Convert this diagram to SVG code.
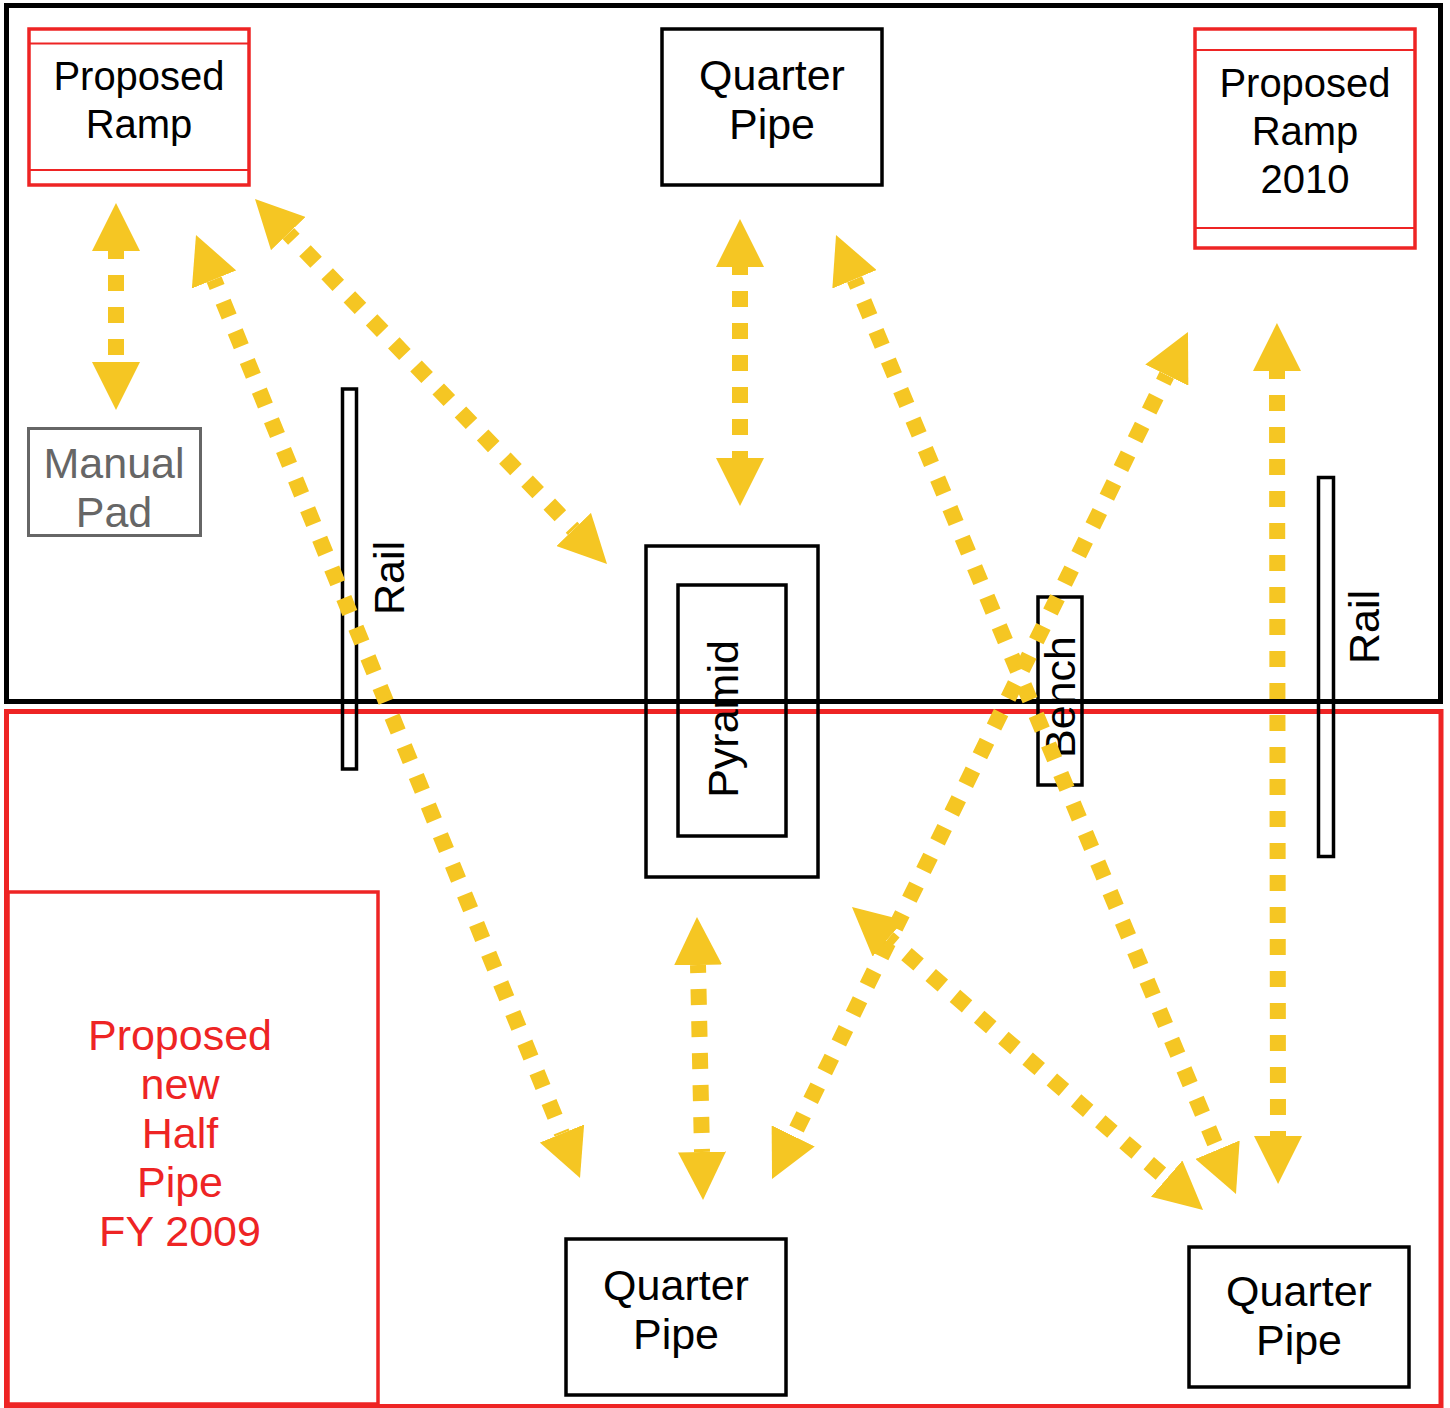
<svg xmlns="http://www.w3.org/2000/svg" width="1450" height="1408" viewBox="0 0 1450 1408">
<style>
text{font-family:"Liberation Sans",Arial,sans-serif;font-size:43px;text-anchor:middle;fill:#000}
.sm{font-size:40px}
.blk{fill:none;stroke:#000;stroke-width:3.5}
.red{fill:none;stroke:#EE2424;stroke-width:3.5}
.redthin{stroke:#EE2424;stroke-width:1.8}
.rt{fill:#EE2424}
.gt{fill:#666}
.arr{fill:none;stroke:#F5C623;stroke-width:16;stroke-dasharray:16 16;stroke-dashoffset:8;marker-start:url(#ah);marker-end:url(#ah)}
</style>
<defs>
<marker id="ah" markerUnits="userSpaceOnUse" viewBox="0 0 48 48" markerWidth="48" markerHeight="48" refX="0" refY="24" orient="auto-start-reverse">
<path d="M0,0 L48,24 L0,48 Z" fill="#F5C623"/>
</marker>
</defs>
<rect width="1450" height="1408" fill="#fff"/>
<g id="frames">
<rect x="6.5" y="711.5" width="1434.5" height="695" fill="none" stroke="#EE2424" stroke-width="5"/>
<rect x="6.5" y="5.5" width="1434" height="696" fill="none" stroke="#000" stroke-width="5"/>
</g>
<g id="ramp1">
<rect class="red" x="29" y="29" width="220" height="156"/>
<line class="redthin" x1="29" y1="43.5" x2="249" y2="43.5"/>
<line class="redthin" x1="29" y1="170" x2="249" y2="170"/>
<text class="sm" x="139" y="90">Proposed</text>
<text class="sm" x="139" y="138">Ramp</text>
</g>
<g id="qp-top">
<rect class="blk" x="662" y="29" width="220" height="156"/>
<text x="772" y="90">Quarter</text>
<text x="772" y="139">Pipe</text>
</g>
<g id="ramp2010">
<rect class="red" x="1195" y="29" width="220" height="219"/>
<line class="redthin" x1="1195" y1="50" x2="1415" y2="50"/>
<line class="redthin" x1="1195" y1="228" x2="1415" y2="228"/>
<text class="sm" x="1305" y="97">Proposed</text>
<text class="sm" x="1305" y="145">Ramp</text>
<text class="sm" x="1305" y="193">2010</text>
</g>
<g id="manual-pad">
<rect x="28.5" y="428.5" width="172" height="107" fill="none" stroke="#666" stroke-width="3"/>
<text class="gt" x="114" y="478">Manual</text>
<text class="gt" x="114" y="527">Pad</text>
</g>
<g id="rail-left">
<rect class="blk" x="342.5" y="389" width="14" height="380" stroke-width="3"/>
<text transform="translate(404,578) rotate(-90)">Rail</text>
</g>
<g id="pyramid">
<rect class="blk" x="646" y="546" width="172" height="331"/>
<rect class="blk" x="678" y="585" width="108" height="251"/>
<text transform="translate(738,719) rotate(-90)">Pyramid</text>
</g>
<g id="bench">
<rect class="blk" x="1038" y="597" width="44" height="188"/>
<text transform="translate(1075,697) rotate(-90)">Bench</text>
</g>
<g id="rail-right">
<rect class="blk" x="1318.5" y="477.5" width="15" height="379" stroke-width="3"/>
<text transform="translate(1379,627) rotate(-90)">Rail</text>
</g>
<g id="half-pipe">
<rect class="red" x="8" y="892" width="370" height="512" stroke-width="4"/>
<text class="rt" x="180" y="1050">Proposed</text>
<text class="rt" x="180" y="1099">new</text>
<text class="rt" x="180" y="1148">Half</text>
<text class="rt" x="180" y="1197">Pipe</text>
<text class="rt" x="180" y="1246">FY 2009</text>
</g>
<g id="qp-bottom-left">
<rect class="blk" x="566" y="1239" width="220" height="156"/>
<text x="676" y="1300">Quarter</text>
<text x="676" y="1349">Pipe</text>
</g>
<g id="qp-bottom-right">
<rect class="blk" x="1189" y="1247" width="220" height="140"/>
<text x="1299" y="1306">Quarter</text>
<text x="1299" y="1355">Pipe</text>
</g>
<g id="connectors">
<line class="arr" x1="116" y1="251" x2="116" y2="362"/>
<line class="arr" x1="288.3" y1="233.5" x2="573.7" y2="529.5"/>
<line class="arr" x1="214.1" y1="279.5" x2="561.9" y2="1133.5"/>
<line class="arr" x1="740" y1="267" x2="740" y2="458"/>
<line class="arr" x1="854.5" y1="279.3" x2="1217.5" y2="1149.7"/>
<line class="arr" x1="1166.8" y1="375.1" x2="793.2" y2="1135.9"/>
<line class="arr" x1="1277" y1="371" x2="1278" y2="1136"/>
<line class="arr" x1="888.3" y1="938.4" x2="1166.7" y2="1178.6"/>
<line class="arr" x1="698" y1="965" x2="702" y2="1152"/>
</g>
</svg>
